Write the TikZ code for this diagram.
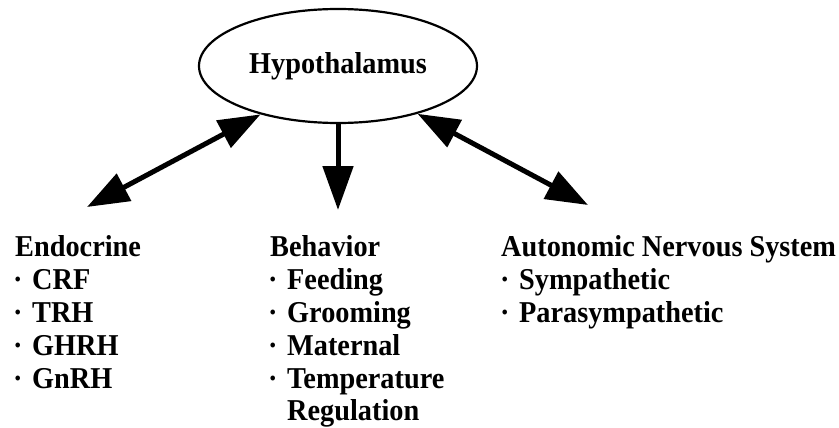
\documentclass[tikz,border=0pt]{standalone}
\usepackage{fontspec}
\usepackage{graphicx}
\setmainfont{Liberation Serif}
\usetikzlibrary{arrows.meta,shapes.geometric}
\newcommand\bul{\makebox[19pt][l]{·}}
\newcommand\tall[1]{\scalebox{1}[1.07]{#1}}
\tikzset{
  txt/.style={font=\fontsize{28.3}{33}\selectfont\bfseries, anchor=base west, inner sep=0pt},
  bigarrow/.style={line width=5pt, -{Triangle[length=44pt,width=30pt]}},
  dblarrow/.style={line width=5pt, {Triangle[length=42pt,width=30pt]}-{Triangle[length=42pt,width=30pt]}},
}
\begin{document}
\begin{tikzpicture}[x=1pt,y=1pt]
\useasboundingbox (0,0) rectangle (839,-428);
\node[draw, line width=2.2pt, ellipse, minimum width=278pt, minimum height=114pt, inner sep=0pt,
      font=\fontsize{28.3}{33}\selectfont\bfseries] (hyp) at (338,-66) {\tall{Hypothalamus}};
\coordinate (lt) at (87,-207);
\coordinate (mt) at (338,-210);
\coordinate (rt) at (588,-205);
\draw[dblarrow] (hyp.212.8) -- (lt);
\draw[bigarrow] (hyp.south) -- (mt);
\draw[dblarrow] (hyp.329.6) -- (rt);
% Endocrine
\node[txt] (e0) at (15,-256) {\tall{Endocrine}};
\node[txt] (e1) at (13,-289) {\tall{\bul CRF}};
\node[txt] (e2) at (13,-322) {\tall{\bul TRH}};
\node[txt] (e3) at (13,-355) {\tall{\bul GHRH}};
\node[txt] (e4) at (13,-388) {\tall{\bul GnRH}};
% Behavior
\node[txt] (b0) at (270,-256) {\tall{Behavior}};
\node[txt] (b1) at (268,-289) {\tall{\bul Feeding}};
\node[txt] (b2) at (268,-322) {\tall{\bul Grooming}};
\node[txt] (b3) at (268,-355) {\tall{\bul Maternal}};
\node[txt] (b4) at (268,-388) {\tall{\bul Temperature}};
\node[txt] (b5) at (287,-420) {\tall{Regulation}};
% Autonomic
\node[txt] (a0) at (501,-256) {\tall{Autonomic Nervous System}};
\node[txt] (a1) at (500,-289) {\tall{\bul Sympathetic}};
\node[txt] (a2) at (500,-322) {\tall{\bul Parasympathetic}};
\end{tikzpicture}
\end{document}
